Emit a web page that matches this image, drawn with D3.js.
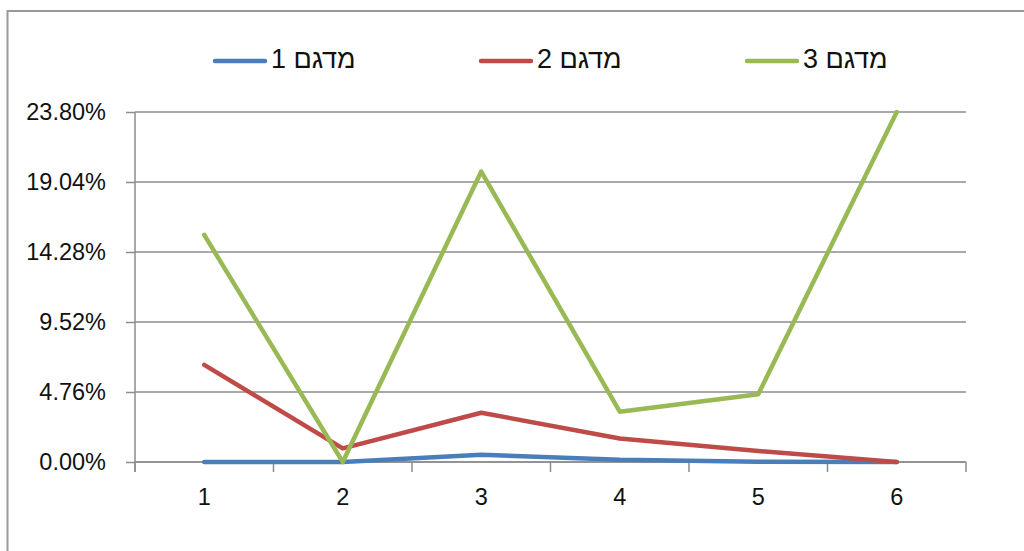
<!DOCTYPE html>
<html>
<head>
<meta charset="utf-8">
<script src="https://cdn.jsdelivr.net/npm/d3@7"></script>
<style>
  html, body { margin: 0; padding: 0; background: #fff; }
  svg { display: block; }
</style>
</head>
<body>
<svg id="chart" width="1024" height="551"></svg>
<script>
// Categories along the x axis
const categories = ["1", "2", "3", "4", "5", "6"];

// Series names (legend)
const seriesNames = ["מדגם 1", "מדגם 2", "מדגם 3"];

// Series values, in percent
const series1 = [0, 0, 0.5, 0.15, 0.02, 0];
const series2 = [6.6, 0.93, 3.35, 1.6, 0.75, 0];
const series3 = [15.44, 0, 19.75, 3.42, 4.6, 23.8];

// Y axis tick values, in percent
const yTicks = [0, 4.76, 9.52, 14.28, 19.04, 23.8];

const colors = ["#4a7ebb", "#be4b48", "#98b954"];
const allSeries = [series1, series2, series3];

const svg = d3.select("#chart");
const W = 1024, H = 551;
const plot = { left: 135, right: 966, top: 112, bottom: 462 };

// Outer chart frame
svg.append("rect")
  .attr("x", 7.5).attr("y", 11)
  .attr("width", W + 20).attr("height", H + 20)
  .attr("fill", "#fff")
  .attr("stroke", "#999").attr("stroke-width", 2);

const x = d3.scaleBand().domain(categories).range([plot.left, plot.right]).padding(0);
const y = d3.scaleLinear().domain([0, 23.8]).range([plot.bottom, plot.top]);

const fontFamily = "'Liberation Sans', Arial, sans-serif";
const gridColor = "#8c8c8c";
const axisFontSize = 23.5;

// Horizontal gridlines
svg.append("g")
  .selectAll("line")
  .data(yTicks)
  .join("line")
  .attr("x1", plot.left).attr("x2", plot.right)
  .attr("y1", d => y(d)).attr("y2", d => y(d))
  .attr("stroke", gridColor).attr("stroke-width", 1.5);

// Y axis
const yAxis = svg.append("g")
  .attr("transform", `translate(${plot.left},0)`)
  .call(d3.axisLeft(y).tickValues(yTicks).tickSize(9).tickPadding(20)
    .tickFormat(d => d.toFixed(2) + "%"));
yAxis.select(".domain").remove();
yAxis.selectAll(".tick line").attr("stroke", gridColor).attr("stroke-width", 1.5);
yAxis.selectAll("text")
  .style("font-family", fontFamily).style("font-size", axisFontSize + "px").attr("fill", "#111");
svg.append("line")
  .attr("x1", plot.left).attr("x2", plot.left)
  .attr("y1", plot.top).attr("y2", plot.bottom + 10)
  .attr("stroke", gridColor).attr("stroke-width", 1.5);

// X axis: labels centred in each band, ticks on band boundaries
const xAxis = svg.append("g")
  .attr("transform", `translate(0,${plot.bottom})`)
  .call(d3.axisBottom(x).tickSize(0).tickPadding(26));
xAxis.select(".domain").remove();
xAxis.selectAll("text")
  .style("font-family", fontFamily).style("font-size", axisFontSize + "px").attr("fill", "#111");
const boundaries = categories.map(c => x(c) + x.bandwidth()).concat([x(categories[0])]);
svg.append("g")
  .selectAll("line")
  .data(boundaries)
  .join("line")
  .attr("x1", d => d).attr("x2", d => d)
  .attr("y1", plot.bottom).attr("y2", plot.bottom + 10)
  .attr("stroke", gridColor).attr("stroke-width", 1.5);
svg.append("line")
  .attr("x1", plot.left).attr("x2", plot.right)
  .attr("y1", plot.bottom).attr("y2", plot.bottom)
  .attr("stroke", gridColor).attr("stroke-width", 1.5);

// Series lines
const line = d3.line()
  .x((d, i) => x(categories[i]) + x.bandwidth() / 2)
  .y(d => y(d));

svg.append("g")
  .selectAll("path")
  .data(allSeries)
  .join("path")
  .attr("d", d => line(d))
  .attr("fill", "none")
  .attr("stroke", (d, i) => colors[i])
  .attr("stroke-width", 4.5)
  .attr("stroke-linecap", "round")
  .attr("stroke-linejoin", "round");

// Legend across the top, centred over the plot
const legendStride = 266, swatchLen = 50, legendY = 61;
const legendItemWidth = 139;
const legendStart = (plot.left + plot.right) / 2 - (legendStride * (seriesNames.length - 1) + legendItemWidth) / 2;
const legend = svg.append("g");
const items = legend.selectAll("g")
  .data(seriesNames)
  .join("g")
  .attr("transform", (d, i) => `translate(${legendStart + i * legendStride},${legendY})`);
items.append("line")
  .attr("x1", 0).attr("x2", swatchLen)
  .attr("y1", 0).attr("y2", 0)
  .attr("stroke", (d, i) => colors[i])
  .attr("stroke-width", 4.5)
  .attr("stroke-linecap", "round");
items.append("text")
  .attr("x", swatchLen + 6)
  .attr("y", 7)
  .attr("direction", "rtl")
  .attr("text-anchor", "end")
  .attr("font-family", fontFamily)
  .attr("font-size", 27)
  .attr("fill", "#111")
  .text(d => d);
</script>
</body>
</html>
